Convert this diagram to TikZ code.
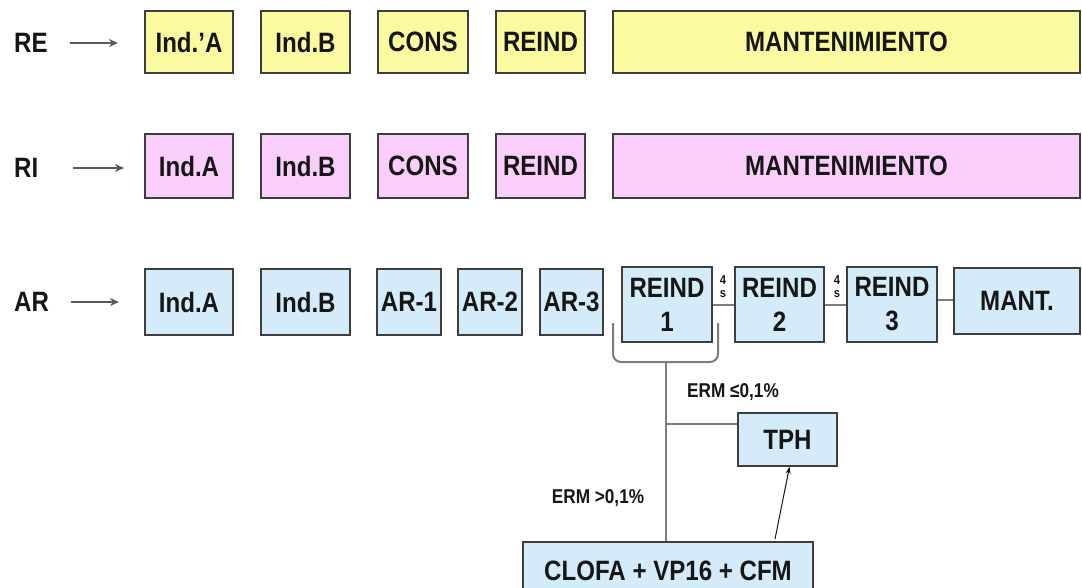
\documentclass[tikz,border=0pt]{standalone}
\usepackage{fontspec}
\setmainfont{Liberation Sans}[FakeStretch=0.86]
\usetikzlibrary{arrows.meta}

\definecolor{boxyellow}{RGB}{252,250,160}
\definecolor{boxpink}{RGB}{250,206,250}
\definecolor{boxblue}{RGB}{212,236,250}
\definecolor{edgegray}{RGB}{62,62,62}
\definecolor{wiregray}{RGB}{125,125,125}
\definecolor{ink}{RGB}{22,22,22}

% box placed by its corners: style, name, x1, y1, x2, y2, text
\newcommand{\pbox}[7]{%
  \node[#1, minimum width={#5-#3}, minimum height={#6-#4}] (#2)
    at ({(#3+#5)/2},{(#4+#6)/2}) {#7};}

\begin{document}
\begin{tikzpicture}[x=1pt,y=-1pt,
  phase/.style={draw=edgegray, line width=1.5pt, text=ink, inner sep=0pt,
    align=center, font=\bfseries\fontsize{28}{34}\selectfont},
  yel/.style={phase, fill=boxyellow},
  pnk/.style={phase, fill=boxpink},
  blu/.style={phase, fill=boxblue},
  rowlabel/.style={text=ink, anchor=west, inner sep=0pt,
    font=\bfseries\fontsize{28}{34}\selectfont},
  feed/.style={draw=black!65, line width=2.2pt,
    -{Stealth[length=9pt,width=8pt]}},
  link/.style={draw=wiregray, line width=2pt},
  pointer/.style={draw=ink, line width=1pt, -{Stealth[length=7pt,width=5pt]}},
  gap/.style={text=ink, inner sep=0pt, font=\bfseries\fontsize{13}{13}\selectfont},
  cond/.style={text=ink, inner sep=0pt, font=\bfseries\fontsize{20}{20}\selectfont}
]
\useasboundingbox (0,0) rectangle (1082,587);
\clip (0,0) rectangle (1082,587);

% ---- RE row
\node[rowlabel] (lRE) at (14,43) {RE};
\coordinate (fRE) at (70,43);
\coordinate (tRE) at (118,43);
\draw[feed] (fRE) -- (tRE);
\pbox{yel}{reA}{145}{11}{233}{73}{Ind.'A}
\pbox{yel}{reB}{261}{11}{350}{73}{Ind.B}
\pbox{yel}{reC}{378}{11}{468}{73}{CONS}
\pbox{yel}{reR}{496}{11}{585}{73}{REIND}
\pbox{yel}{reM}{613}{11}{1080}{73}{MANTENIMIENTO}

% ---- RI row
\node[rowlabel] (lRI) at (14,168) {RI};
\coordinate (fRI) at (73,168);
\coordinate (tRI) at (124,168);
\draw[feed] (fRI) -- (tRI);
\pbox{pnk}{riA}{145}{134}{233}{198}{Ind.A}
\pbox{pnk}{riB}{261}{134}{350}{198}{Ind.B}
\pbox{pnk}{riC}{378}{134}{468}{198}{CONS}
\pbox{pnk}{riR}{496}{134}{585}{198}{REIND}
\pbox{pnk}{riM}{613}{134}{1080}{198}{MANTENIMIENTO}

% ---- AR row
\node[rowlabel] (lAR) at (14,302) {AR};
\coordinate (fAR) at (71,302);
\coordinate (tAR) at (119,302);
\draw[feed] (fAR) -- (tAR);
\pbox{blu}{arA}{145}{269}{233}{335}{Ind.A}
\pbox{blu}{arB}{261}{269}{350}{335}{Ind.B}
\pbox{blu}{ar1}{377}{269}{441}{335}{AR-1}
\pbox{blu}{ar2}{458}{269}{522}{335}{AR-2}
\pbox{blu}{ar3}{540}{269}{603}{335}{AR-3}
\pbox{blu}{rd1}{622}{267}{712}{342}{REIND\\1}
\pbox{blu}{rd2}{735}{267}{824}{342}{REIND\\2}
\pbox{blu}{rd3}{847}{267}{937}{342}{REIND\\3}
\pbox{blu}{mant}{954}{268}{1080}{334}{MANT.}

% links between reinductions, with the interval marks
\draw[link] (rd1) -- (rd2);
\draw[link] (rd2) -- (rd3);
\draw[link] ([yshift=4.5pt]rd3.east) -- ([yshift=4.5pt]rd3.east -| mant.west);
\node[gap] (g1n) at (723,280) {4};
\node[gap] (g1u) at (723,294) {s};
\node[gap] (g2n) at (837,280) {4};
\node[gap] (g2u) at (837,294) {s};

% ---- response branch below REIND 1
\pbox{blu}{tph}{738}{413}{837}{466}{TPH}
\pbox{blu}{clofa}{523}{542}{813}{600}{CLOFA + VP16 + CFM}

\coordinate (brL) at (613,323);
\coordinate (brR) at (718,323);
\draw[link, rounded corners=8pt] (brL) -- (613,362) -- (718,362) -- (brR);
\coordinate (brk) at (666,362);
\draw[link] (brk) -- (brk |- clofa.north);
\coordinate (split) at (666,424);
\draw[link] (split) -- (split -| tph.west);
\coordinate (up) at (775,539);
\draw[pointer] (up) -- ([xshift=2pt]tph.south);

\node[cond] (low) at (733,392) {ERM ≤0,1\%};
\node[cond] (high) at (598,498) {ERM >0,1\%};
\end{tikzpicture}
\end{document}
